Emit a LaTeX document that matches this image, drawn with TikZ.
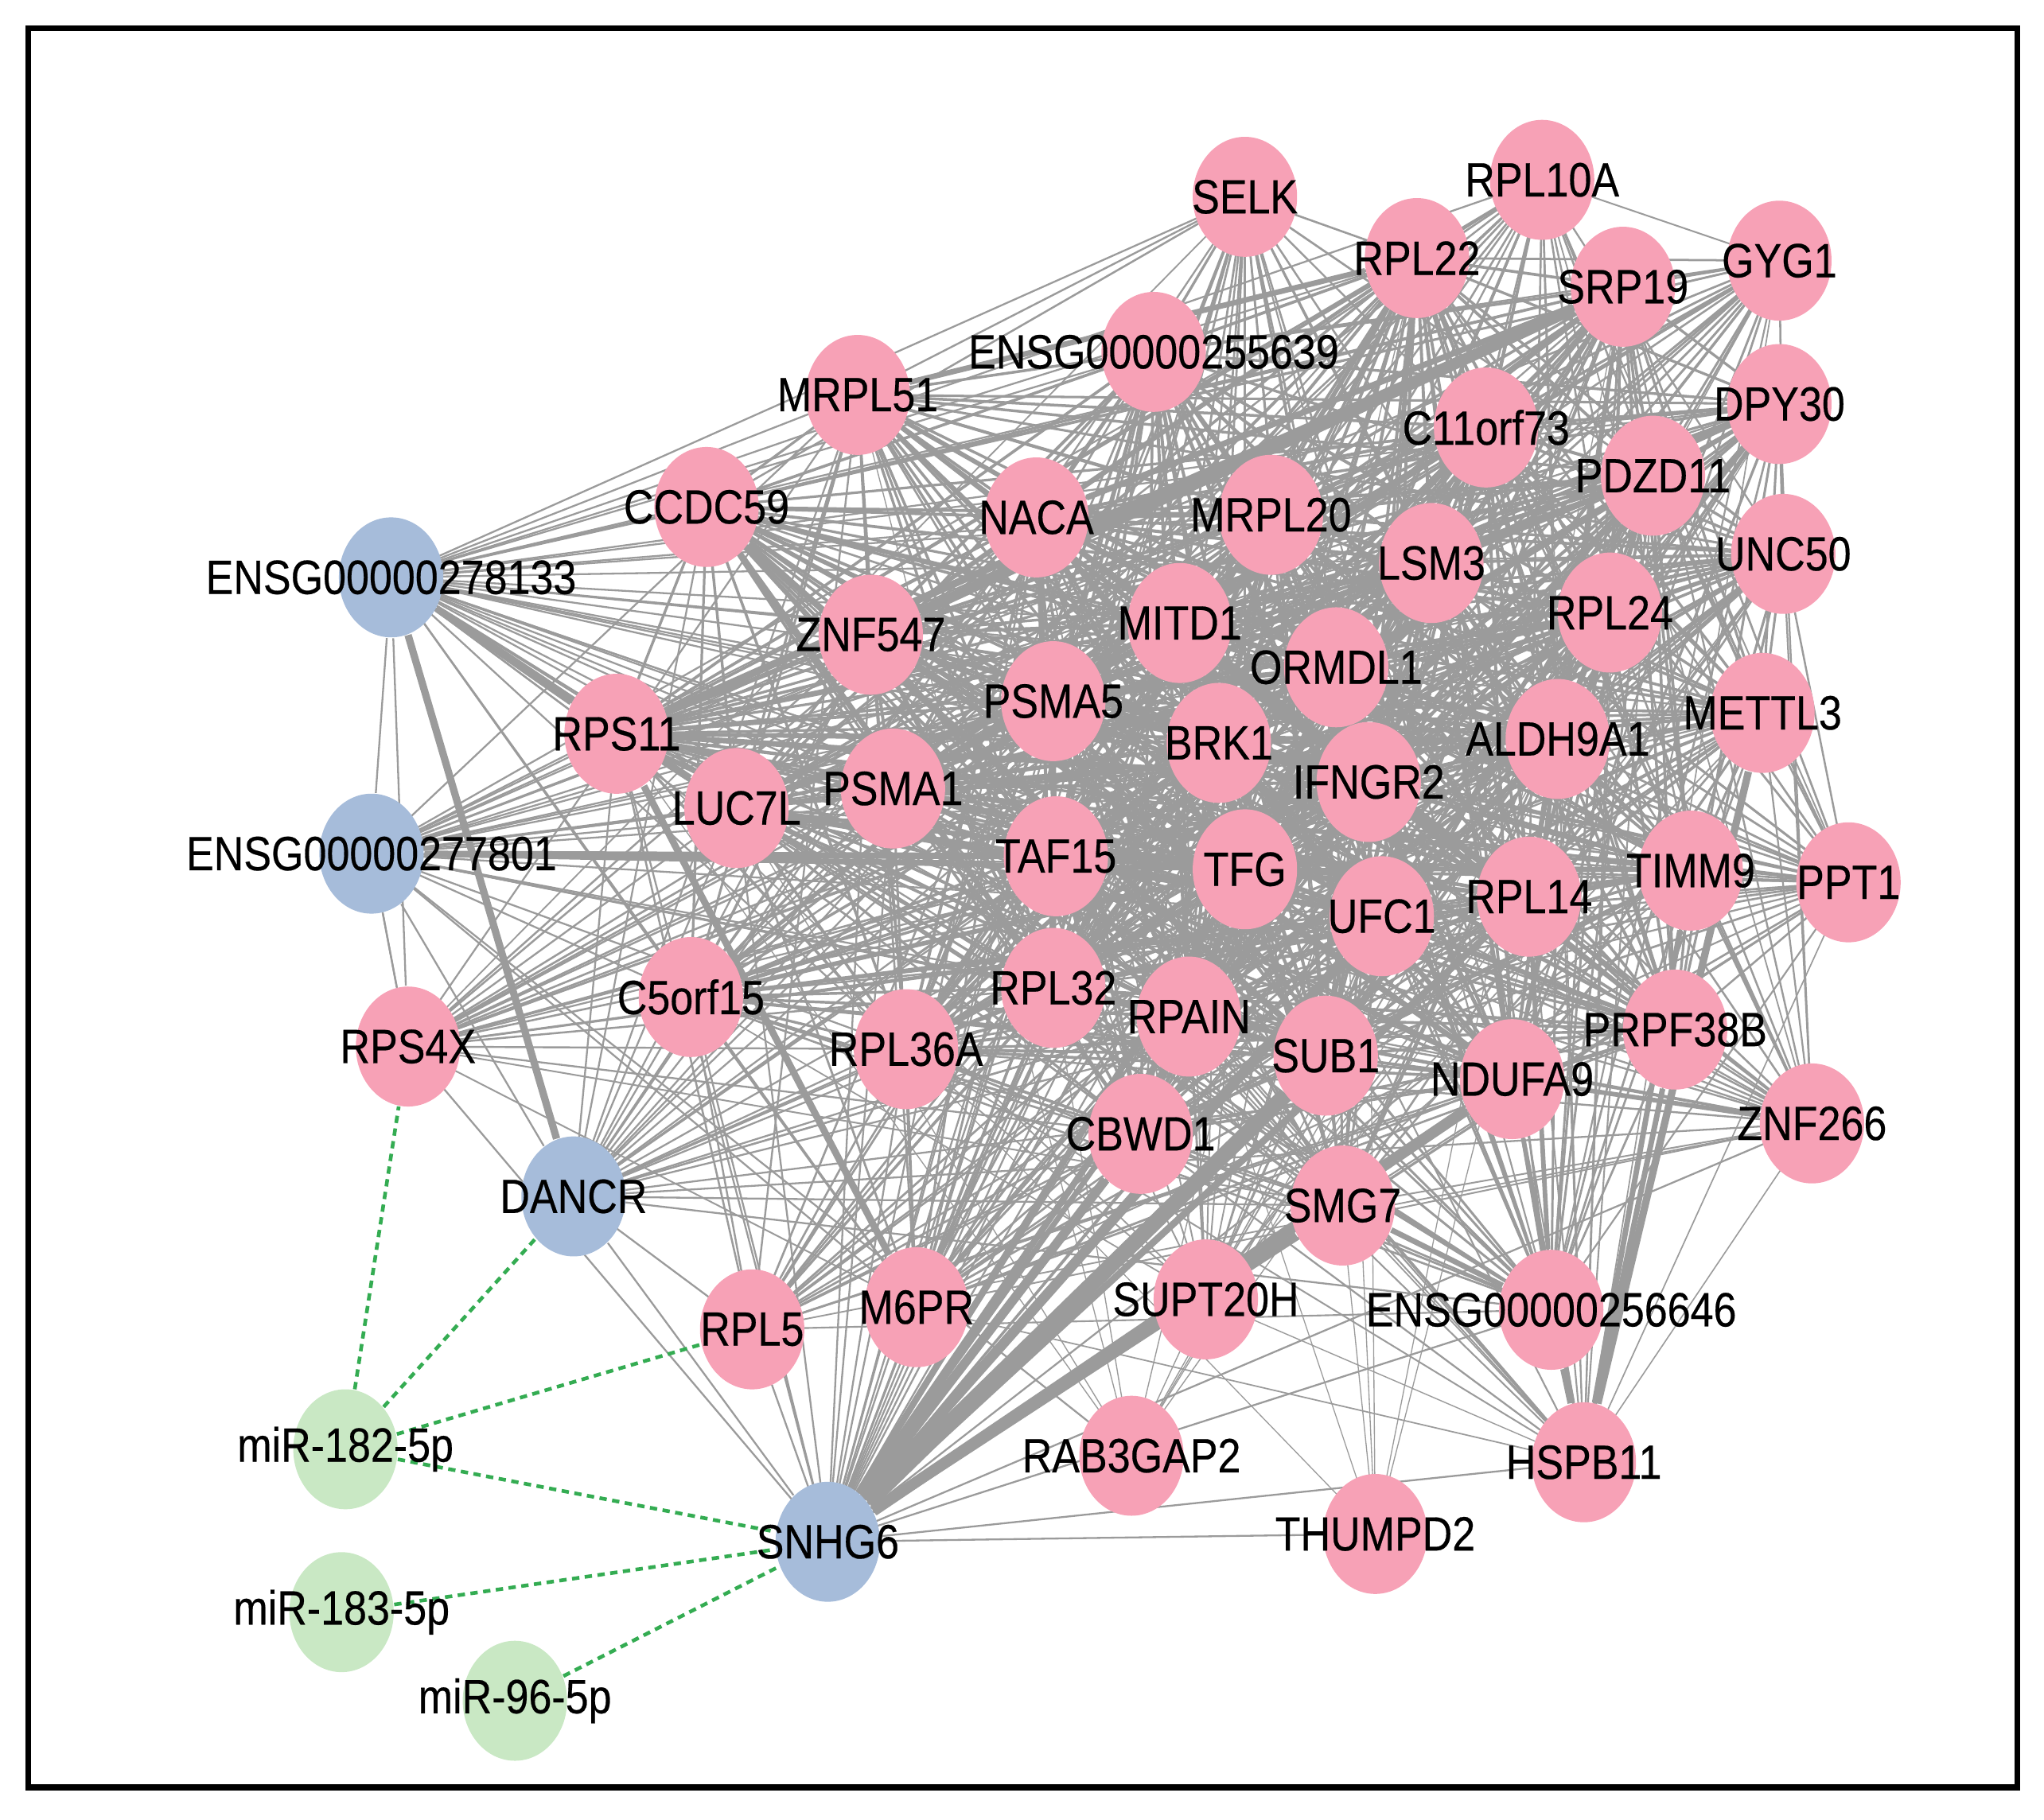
\documentclass[tikz,border=0pt]{standalone}
\usepackage{fontspec}
\setmainfont{Liberation Sans}[FakeStretch=0.86, FakeBold=0.35]
\usetikzlibrary{shapes.geometric}
\definecolor{pinkc}{RGB}{247,161,182}
\definecolor{bluec}{RGB}{166,188,218}
\definecolor{greenc}{RGB}{201,232,196}
\definecolor{edgec}{RGB}{155,155,155}
\definecolor{dashc}{RGB}{52,172,82}
\pgfdeclarelayer{background}
\pgfdeclarelayer{fg}
\pgfsetlayers{background,main,fg}
\tikzset{
  gnode/.style={ellipse, inner sep=0pt, minimum width=0.8cm, minimum height=0.92cm, draw=none},
  pk/.style={gnode, fill=pinkc},
  bl/.style={gnode, fill=bluec},
  gr/.style={gnode, fill=greenc},
  lab/.style={inner sep=0pt, font=\fontsize{10.5pt}{12pt}\selectfont, text=black},
  edge/.style={draw=edgec, line width=0.4pt},
  thk/.style={draw=edgec, line width=#1},
  mirna/.style={draw=dashc, line width=0.8pt, dash pattern=on 1.6pt off 1.2pt},
  frame/.style={draw=black, line width=1.3pt}
}
\newcommand\gn[5]{%
  \node[#1] (#2) at (#3,#4) {};
  \begin{pgfonlayer}{fg}\node[lab] (#2-t) at (#2.center) {#5};\end{pgfonlayer}}
\begin{document}
\begin{tikzpicture}[x=0.01cm, y=-0.01cm]
\useasboundingbox (0,0) rectangle (1568,1396);
\node[frame, rectangle, minimum width=15.25cm, minimum height=13.49cm, inner sep=0pt] (border) at (784.5,696.5) {};
% pink nodes
\gn{pk}{selk}{955}{151}{SELK}
\gn{pk}{rplxa}{1183}{138}{RPL10A}
\gn{pk}{rpl22}{1087}{198}{RPL22}
\gn{pk}{srp19}{1245}{220}{SRP19}
\gn{pk}{gyg1}{1365}{200}{GYG1}
\gn{pk}{e255}{885}{270}{ENSG00000255639}
\gn{pk}{mrpl51}{658}{303}{MRPL51}
\gn{pk}{dpy30}{1365}{310}{DPY30}
\gn{pk}{c11}{1140}{328}{C11orf73}
\gn{pk}{pdzd11}{1268}{365}{PDZD11}
\gn{pk}{ccdc59}{542}{389}{CCDC59}
\gn{pk}{naca}{795}{397}{NACA}
\gn{pk}{mrpl20}{975}{395}{MRPL20}
\gn{pk}{lsm3}{1098}{432}{LSM3}
\gn{pk}{unc50}{1368}{425}{UNC50}
\gn{pk}{znf547}{668}{487}{ZNF547}
\gn{pk}{mitd1}{905}{478}{MITD1}
\gn{pk}{rpl24}{1235}{470}{RPL24}
\gn{pk}{ormdl1}{1025}{512}{ORMDL1}
\gn{pk}{psma5}{808}{538}{PSMA5}
\gn{pk}{mettl3}{1352}{547}{METTL3}
\gn{pk}{rps11}{473}{563}{RPS11}
\gn{pk}{brk1}{935}{570}{BRK1}
\gn{pk}{aldh}{1195}{567}{ALDH9A1}
\gn{pk}{luc7l}{565}{620}{LUC7L}
\gn{pk}{psma1}{685}{605}{PSMA1}
\gn{pk}{ifngr2}{1050}{600}{IFNGR2}
\gn{pk}{taf15}{810}{657}{TAF15}
\gn{pk}{tfg}{955}{667}{TFG}
\gn{pk}{ufc1}{1060}{703}{UFC1}
\gn{pk}{rpl14}{1173}{688}{RPL14}
\gn{pk}{timm9}{1297}{668}{TIMM9}
\gn{pk}{ppt1}{1418}{677}{PPT1}
\gn{pk}{c5orf15}{530}{765}{C5orf15}
\gn{pk}{rpl32}{808}{758}{RPL32}
\gn{pk}{rpain}{912}{780}{RPAIN}
\gn{pk}{rpl36a}{695}{805}{RPL36A}
\gn{pk}{rps4x}{313}{803}{RPS4X}
\gn{pk}{sub1}{1017}{810}{SUB1}
\gn{pk}{ndufa9}{1160}{828}{NDUFA9}
\gn{pk}{prpf}{1285}{790}{PRPF38B}
\gn{pk}{znf266}{1390}{862}{ZNF266}
\gn{pk}{cbwd1}{875}{870}{CBWD1}
\gn{pk}{smg7}{1030}{925}{SMG7}
\gn{pk}{rpl5}{577}{1020}{RPL5}
\gn{pk}{m6pr}{703}{1003}{M6PR}
\gn{pk}{supt20h}{925}{997}{SUPT20H}
\gn{pk}{e256}{1190}{1005}{ENSG00000256646}
\gn{pk}{rab3gap2}{868}{1117}{RAB3GAP2}
\gn{pk}{hspb11}{1215}{1122}{HSPB11}
\gn{pk}{thumpd2}{1055}{1177}{THUMPD2}
% blue nodes
\gn{bl}{e278}{300}{443}{ENSG00000278133}
\gn{bl}{e277}{285}{655}{ENSG00000277801}
\gn{bl}{dancr}{440}{918}{DANCR}
\gn{bl}{snhg6}{635}{1183}{SNHG6}
% green nodes
\gn{gr}{mir182}{265}{1112}{miR-182-5p}
\gn{gr}{mir183}{262}{1237}{miR-183-5p}
\gn{gr}{mir96}{395}{1305}{miR-96-5p}

\def\pinklist{selk/0.7, rplxa/0.68, rpl22/0.92, srp19/0.92, gyg1/0.74, e255/0.94, mrpl51/0.86, dpy30/0.86, c11/0.96, pdzd11/0.95, ccdc59/0.9, naca/0.96, mrpl20/0.96, lsm3/0.96, unc50/0.86, znf547/0.95, mitd1/0.97, rpl24/0.95, ormdl1/0.97, psma5/0.97, mettl3/0.86, rps11/0.9, brk1/0.97, aldh/0.95, luc7l/0.9, psma1/0.95, ifngr2/0.97, taf15/0.97, tfg/0.97, ufc1/0.97, rpl14/0.95, timm9/0.9, ppt1/0.72, c5orf15/0.86, rpl32/0.95, rpain/0.95, rpl36a/0.92, rps4x/0.66, sub1/0.95, ndufa9/0.92, prpf/0.88, znf266/0.66, cbwd1/0.88, smg7/0.76, rpl5/0.7, m6pr/0.76, supt20h/0.5, e256/0.76, rab3gap2/0.28, hspb11/0.55, thumpd2/0.24}

\begin{pgfonlayer}{background}
\pgfmathsetseed{20231}
\foreach \a/\wa [count=\i] in \pinklist {
  \foreach \b/\wb [count=\j] in \pinklist {
    \ifnum\j>\i\relax
      \pgfmathtruncatemacro\ok{rnd<(\wa*\wb)}
      \ifnum\ok=1\relax
        \pgfmathsetmacro\lw{0.2+0.6*\wa*\wb*\wa*\wb}
        \draw[draw=edgec, line width=\lw pt] (\a.center) -- (\b.center);
      \fi
    \fi
  }
}
\foreach \u in {e278,e277,dancr,snhg6} {
  \foreach \b/\wb in \pinklist {
    \pgfmathtruncatemacro\ok{rnd<(0.85*\wb)}
    \ifnum\ok=1\relax \draw[edge] (\u.center) -- (\b.center);\fi
  }
}
\draw[edge] (e278) -- (e277);
\draw[edge] (e277) -- (rps4x);
\draw[edge] (e278) -- (rps4x);
\draw[edge] (dancr) -- (snhg6);
\draw[edge] (e277) -- (dancr);
% thick edges
\draw[thk=1.6pt] (e278) -- (dancr);
\draw[thk=1.4pt] (e278) -- (rps11);
\draw[thk=1.1pt] (e278) -- (luc7l);
\draw[thk=1.4pt] (e277) -- (taf15);
\draw[thk=1.0pt] (e277) -- (tfg);
\draw[thk=3.4pt] (snhg6) -- (sub1);
\draw[thk=2.4pt] (snhg6) -- (ndufa9);
\draw[thk=2.0pt] (snhg6) -- (cbwd1);
\draw[thk=2.2pt] (snhg6) -- (ufc1);
\draw[thk=1.6pt] (snhg6) -- (smg7);
\draw[thk=1.5pt] (snhg6) -- (rpl14);
\draw[thk=1.4pt] (snhg6) -- (tfg);
\draw[thk=1.4pt] (snhg6) -- (rpain);
\draw[thk=1.2pt] (snhg6) -- (ifngr2);
\draw[thk=1.5pt] (m6pr) -- (rps11);
\draw[thk=1.4pt] (ccdc59) -- (sub1);
\draw[thk=1.2pt] (ccdc59) -- (rpl32);
\draw[thk=2.2pt] (srp19) -- (znf547);
\draw[thk=1.6pt] (srp19) -- (rps11);
\draw[thk=1.3pt] (srp19) -- (naca);
\draw[thk=1.2pt] (rpl22) -- (mrpl51);
\draw[thk=1.6pt] (hspb11) -- (e256);
\draw[thk=1.6pt] (hspb11) -- (mettl3);
\draw[thk=1.2pt] (hspb11) -- (timm9);
\draw[thk=1.2pt] (hspb11) -- (prpf);
\draw[thk=1.0pt] (hspb11) -- (ndufa9);
\draw[thk=1.2pt] (e256) -- (smg7);
\draw[thk=1.0pt] (e256) -- (rpl14);
\draw[thk=1.2pt] (rps11) -- (ifngr2);
\draw[thk=1.2pt] (luc7l) -- (ufc1);
\draw[thk=1.0pt] (ndufa9) -- (znf266);
\draw[thk=1.2pt] (znf547) -- (ndufa9);
\draw[thk=1.0pt] (c5orf15) -- (tfg);
\draw[thk=1.0pt] (mrpl51) -- (ormdl1);
% miRNA links
\draw[mirna] (mir182) -- (rps4x);
\draw[mirna] (mir182) -- (dancr);
\draw[mirna] (mir182) -- (rpl5);
\draw[mirna] (mir182) -- (snhg6);
\draw[mirna] (mir183) -- (snhg6);
\draw[mirna] (mir96) -- (snhg6);
\end{pgfonlayer}
\end{tikzpicture}
\end{document}
